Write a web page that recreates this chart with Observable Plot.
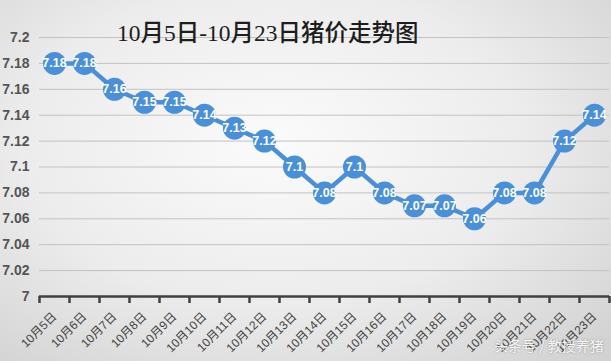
<!DOCTYPE html>
<html>
<head>
<meta charset="utf-8">
<script src="https://cdn.jsdelivr.net/npm/d3@7"></script>
<script src="https://cdn.jsdelivr.net/npm/@observablehq/plot@0.6"></script>
<style>
  html, body { margin: 0; padding: 0; }
  #wrap {
    position: relative; width: 611px; height: 361px; overflow: hidden;
    background: radial-gradient(ellipse 75% 80% at 45% 40%, #fbfbfb 0%, #ececec 55%, #d2d2d2 100%);
    font-family: "Liberation Sans", "Noto Sans CJK SC", sans-serif;
  }
  #title {
    position: absolute; left: 117px; top: 14px; white-space: nowrap;
    font-family: "Liberation Serif", "Noto Sans CJK SC", serif;
    font-size: 23.5px; font-weight: 500; color: #1e1e1e; z-index: 2;
  }
  #mark {
    position: absolute; left: 494px; top: 335px; white-space: nowrap;
    font-family: "Noto Sans CJK SC", sans-serif; font-size: 14px;
    color: rgba(255,255,255,0.92); text-shadow: 0 0 2px rgba(0,0,0,0.35); z-index: 2;
  }
  svg { position: absolute; left: 0; top: 0; }
</style>
</head>
<body>
<div id="wrap">
  <div id="title">10月5日-10月23日猪价走势图</div>
  <div id="mark">头条号 / 教授养猪</div>
</div>
<script>
const dates = ["10月5日","10月6日","10月7日","10月8日","10月9日","10月10日","10月11日","10月12日","10月13日","10月14日","10月15日","10月16日","10月17日","10月18日","10月19日","10月20日","10月21日","10月22日","10月23日"];
const prices = [7.18,7.18,7.16,7.15,7.15,7.14,7.13,7.12,7.1,7.08,7.1,7.08,7.07,7.07,7.06,7.08,7.08,7.12,7.14];
const yTicks = [7,7.02,7.04,7.06,7.08,7.1,7.12,7.14,7.16,7.18,7.2];

const data = dates.map((d, i) => ({i, date: d, price: prices[i]}));
const centers = data.map(d => d.i);
const edges = d3.range(dates.length + 1).map(k => k - 0.5);
const blue = "#4a8fd9";

const chart = Plot.plot({
  width: 611, height: 361,
  marginLeft: 39, marginRight: 2, marginTop: 37, marginBottom: 65,
  x: {type: "linear", domain: [-0.5, dates.length - 0.5]},
  y: {domain: [7, 7.2]},
  style: {background: "transparent", fontFamily: "'Liberation Sans','Noto Sans CJK SC',sans-serif", overflow: "visible"},
  marks: [
    Plot.gridY(yTicks, {stroke: "#c2c2c2", strokeOpacity: 1, strokeWidth: 1}),
    Plot.axisY(yTicks, {label: null, tickSize: 0, tickPadding: 10, tickFormat: d => String(d), fontSize: 14, fontWeight: "bold", fill: "#555"}),
    Plot.ruleY([7], {stroke: "#404040", strokeWidth: 2.5}),
    Plot.axisX(edges, {label: null, tickSize: 7, tickFormat: () => "", stroke: "#404040", strokeWidth: 2.5}),
    Plot.axisX(centers, {label: null, tickSize: 0, tickPadding: 18, tickFormat: i => dates[i], tickRotate: -45, fontSize: 12, fill: "#444"}),
    Plot.line(data, {x: "i", y: "price", stroke: blue, strokeWidth: 4.5}),
    Plot.dot(data, {x: "i", y: "price", r: 11.5, fill: blue, stroke: "none"}),
    Plot.text(data, {x: "i", y: "price", text: d => String(d.price), fill: "white", fontWeight: "bold", fontSize: 12.5})
  ]
});
document.getElementById("wrap").appendChild(chart);
</script>
</body>
</html>
